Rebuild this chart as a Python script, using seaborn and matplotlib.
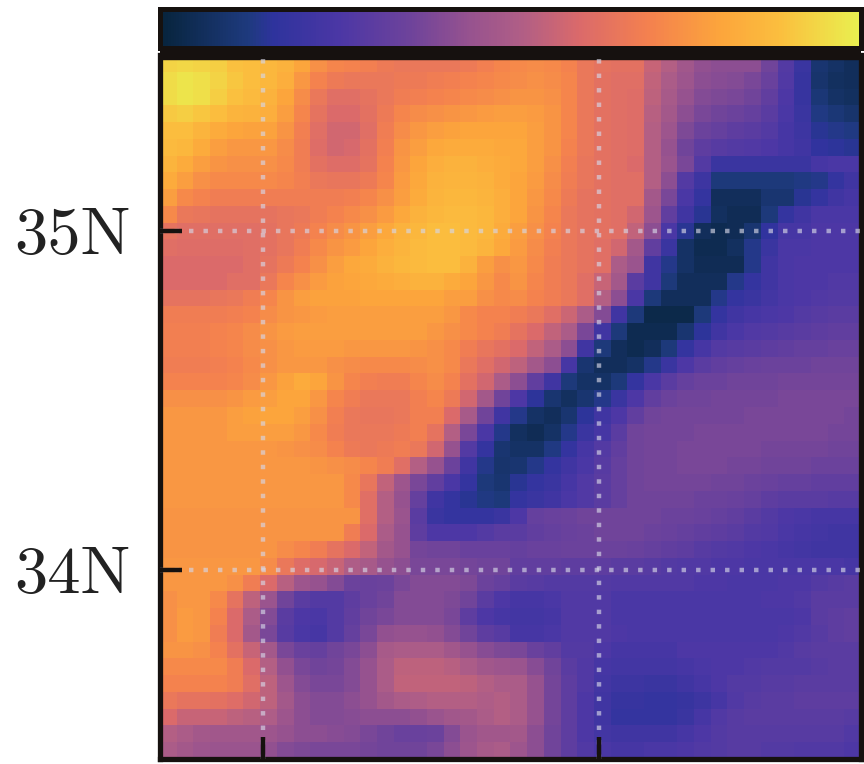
import numpy as np
import matplotlib
matplotlib.use('Agg')
import matplotlib.pyplot as plt
import seaborn as sns
from matplotlib.colors import LinearSegmentedColormap

# field values (0-100 on the colour bar), north at the top
field = [
    [93,94,93,92,89,88,86,84,80,74,71,70,69,67,66,66,66,66,67,69,71,72,73,72,70,66,64,63,63,56,52,47,43,42,42,42,36,28,20,10,8,6],
    [95,97,96,93,90,88,86,83,76,70,67,66,66,66,67,67,68,69,70,71,72,73,74,73,71,66,63,62,62,55,50,46,42,41,40,38,34,27,19,9,7,6],
    [95,97,96,92,89,87,84,80,73,66,62,62,64,66,68,69,70,71,72,73,74,75,75,74,71,66,63,62,61,54,49,44,40,39,38,36,32,26,19,11,8,7],
    [91,92,90,88,85,84,83,78,71,64,60,60,63,67,71,73,74,75,76,77,78,78,77,75,71,66,63,62,61,53,48,42,38,36,35,33,30,25,20,13,11,9],
    [88,88,85,82,80,79,79,75,69,62,58,58,62,68,73,76,78,79,80,80,80,80,78,75,71,66,63,62,61,52,46,39,35,33,31,30,28,24,21,15,14,13],
    [87,86,82,78,76,76,76,73,68,61,58,59,63,69,75,78,81,82,82,82,81,81,78,75,70,66,63,62,61,52,44,36,31,29,28,27,26,24,22,17,16,15],
    [85,82,78,75,74,74,74,72,68,63,61,61,64,70,76,80,83,84,84,83,82,81,78,74,69,65,63,62,60,52,45,38,28,20,20,20,20,20,20,24,25,25],
    [82,78,74,72,72,72,72,71,69,66,65,65,67,71,77,81,84,85,85,84,82,80,77,73,68,65,63,62,62,52,42,28,21,12,12,12,12,12,13,14,18,22],
    [78,72,70,68,68,68,68,68,68,68,68,69,71,74,78,82,85,86,86,85,83,80,76,72,67,64,63,62,62,48,38,25,18,6,6,6,10,10,15,18,22,24],
    [72,66,65,64,64,64,64,65,66,68,70,72,74,77,81,84,86,87,87,86,83,80,75,71,66,64,63,62,58,46,32,22,15,7,5,5,12,18,22,25,25,25],
    [64,62,62,62,62,62,63,65,67,70,73,75,78,81,84,86,88,88,87,86,82,78,74,70,66,64,63,62,55,42,25,15,6,4,5,10,17,24,24,26,26,26],
    [62,61,61,61,61,62,63,65,68,72,75,77,80,83,85,87,88,88,87,85,81,77,73,69,66,64,62,58,48,32,20,8,4,4,7,14,20,25,25,26,26,26],
    [60,60,60,60,60,62,64,67,70,74,78,81,82,84,86,87,88,88,84,78,74,76,72,68,66,64,62,50,45,22,14,8,5,5,5,14,22,25,26,26,26,26],
    [60,60,60,60,62,62,66,71,74,77,79,80,81,82,83,84,84,82,80,76,72,75,71,68,66,62,56,48,30,22,12,6,6,6,14,18,22,25,26,26,27,27],
    [64,64,64,65,66,68,71,75,78,79,79,79,80,80,80,80,80,78,78,74,72,73,70,68,66,62,52,42,25,12,6,6,6,14,18,20,23,25,26,27,28,28],
    [68,68,68,68,69,70,73,75,76,77,78,78,78,78,78,78,78,76,72,70,70,68,66,62,57,50,40,22,12,3,3,3,12,18,22,24,25,26,28,29,30,30],
    [69,69,69,70,71,73,75,77,78,78,78,78,78,78,78,78,76,74,72,70,68,64,60,55,50,38,22,12,4,4,4,10,16,22,25,27,28,29,30,31,32,32],
    [69,69,69,70,71,73,74,76,77,77,77,76,76,76,76,75,74,72,68,65,63,60,55,50,42,22,12,6,4,6,12,18,24,28,29,30,31,32,33,33,34,34],
    [68,68,68,69,70,72,74,76,76,76,74,73,72,72,72,73,74,72,66,62,58,54,48,42,24,10,6,6,8,14,20,26,30,32,33,34,35,35,35,36,36,36],
    [70,70,70,70,71,73,76,79,82,80,75,71,69,68,68,71,73,70,63,58,50,42,32,22,12,8,8,12,18,25,30,33,35,35,36,36,36,37,37,37,37,37],
    [74,74,74,74,75,77,78,80,80,76,71,68,66,66,66,69,71,67,58,48,36,26,16,10,7,10,14,20,26,32,35,36,36,37,37,37,37,38,38,38,38,38],
    [76,76,76,76,78,79,80,80,78,74,69,66,65,65,66,69,69,60,49,36,22,14,8,6,10,16,22,26,32,36,37,37,37,37,37,38,38,38,38,38,38,37],
    [76,76,76,76,78,78,78,78,76,72,68,66,66,66,67,69,64,52,38,25,14,7,5,8,14,20,24,30,36,37,37,37,38,38,38,38,38,38,38,38,37,37],
    [76,76,76,76,76,76,76,75,74,73,70,67,66,67,68,66,58,44,28,18,10,8,8,13,18,24,28,32,36,37,37,38,38,38,38,38,37,37,37,37,36,36],
    [76,76,76,76,76,76,76,76,76,75,74,73,71,68,62,52,44,35,22,14,9,10,14,18,22,25,29,33,36,37,37,38,38,38,37,37,36,36,36,35,35,35],
    [76,76,76,76,76,76,76,76,76,76,76,72,65,55,46,38,32,25,18,12,10,15,18,20,24,27,30,33,36,37,37,37,37,36,36,35,34,33,33,32,32,32],
    [76,76,76,76,76,76,76,76,76,76,76,72,62,52,44,33,22,18,15,13,12,18,20,22,25,27,30,33,36,36,36,36,35,35,34,33,31,30,30,30,29,29],
    [75,75,75,75,75,75,75,75,75,75,75,75,62,52,45,30,20,18,18,18,20,26,33,34,35,36,36,36,36,36,35,35,34,33,32,30,28,26,25,24,24,24],
    [75,75,75,75,75,75,75,75,75,75,75,68,60,50,44,31,26,26,26,28,30,30,32,33,34,35,36,36,36,35,34,33,32,31,30,28,27,25,24,23,22,22],
    [75,75,75,75,75,75,75,73,71,68,64,60,55,48,44,37,36,36,34,34,34,33,34,34,35,35,35,35,34,33,32,31,29,28,27,26,25,24,23,22,22,22],
    [76,76,76,76,76,76,73,66,61,59,56,51,49,44,42,38,38,38,37,36,36,32,32,32,31,31,31,30,30,29,28,27,27,26,26,25,25,25,25,25,25,24],
    [76,76,76,76,74,68,60,53,46,44,40,35,34,35,38,40,40,40,39,35,33,30,29,28,28,28,28,27,27,27,27,27,26,26,25,25,25,26,26,28,29,30],
    [74,76,76,72,64,54,45,36,30,28,28,31,34,36,40,40,40,39,36,30,26,24,24,25,27,27,27,25,25,25,25,25,25,25,25,25,26,26,27,30,30,30],
    [74,77,76,70,60,50,40,30,26,25,28,32,36,38,40,40,40,38,31,26,24,23,23,24,27,27,27,25,25,25,25,25,25,25,25,25,25,25,26,30,31,32],
    [74,77,76,68,60,48,38,29,25,24,28,33,38,43,44,44,43,40,36,31,29,24,24,25,27,27,27,26,25,25,25,25,25,25,25,25,25,26,27,29,31,32],
    [75,75,74,70,63,56,48,38,34,33,36,38,42,49,50,50,50,47,44,41,39,38,34,32,28,28,26,24,24,24,24,26,26,26,26,26,26,27,29,30,30,30],
    [72,72,72,72,68,60,52,43,38,36,37,40,44,50,54,54,54,53,50,47,46,45,41,36,30,27,24,23,23,23,23,24,25,26,26,27,28,28,28,29,30,30],
    [70,70,70,70,68,62,54,46,40,38,38,40,44,50,55,55,55,55,54,52,50,50,44,37,31,27,23,21,21,20,20,22,24,26,28,28,29,29,30,30,30,30],
    [66,64,64,63,61,58,54,48,42,40,40,42,44,48,50,51,52,52,52,51,52,50,44,37,31,26,22,19,19,18,18,19,21,24,27,29,30,30,31,31,31,31],
    [60,56,56,56,54,53,51,46,42,40,40,41,42,42,42,43,45,47,48,50,52,50,44,37,31,26,22,18,18,18,18,20,24,27,29,30,30,30,30,30,30,29],
    [52,50,48,47,47,47,46,44,42,42,41,40,38,36,34,34,35,40,45,47,47,48,42,36,31,26,23,22,22,22,22,24,26,28,29,29,29,29,29,29,29,27],
    [50,48,46,45,45,45,43,40,39,38,38,38,37,36,36,36,38,42,46,49,50,46,42,36,31,27,25,24,24,25,25,26,27,28,29,29,28,28,27,27,27,26],
]

lat_labels = ['35N', '34N']
lat_ticks = [10.5, 30.7]      # in cells from the top
lon_ticks = [6.17, 26.3]      # in cells from the left
cbar_ticks = [28.5, 63.5, 98.3]

stops = [(0.0, '#07243c'), (0.125, '#1e3a7e'), (0.16, '#2e339d'), (0.257, '#4c37a5'),
         (0.357, '#6e439b'), (0.44, '#96528f'), (0.515, '#b05e86'), (0.6, '#db6a6a'),
         (0.7, '#f4814e'), (0.8, '#fca53c'), (0.885, '#fbbe3e'), (0.955, '#f0dd48'),
         (1.0, '#e9f050')]
thermal = LinearSegmentedColormap.from_list('thermal_like', stops)

sns.set_theme(style='ticks')
plt.rcParams['font.family'] = ['cmr10', 'DejaVu Serif']
plt.rcParams['axes.formatter.use_mathtext'] = True

W, H = 864, 764
frame = '#16110f'
fig = plt.figure(figsize=(W / 100, H / 100), dpi=100)
ax = fig.add_axes([160 / W, 1 - 759 / H, 701 / W, 704 / H])
cax = fig.add_axes([160 / W, 1 - 47.5 / H, 701 / W, 38.5 / H])

sns.heatmap(np.array(field), ax=ax, cmap=thermal, vmin=0, vmax=100, square=False,
            cbar_ax=cax, cbar_kws={'orientation': 'horizontal'},
            xticklabels=False, yticklabels=False)

ax.set_xticks(lon_ticks)
ax.set_yticks(lat_ticks)
ax.set_xticklabels([])
ax.set_yticklabels(lat_labels, rotation=0, fontsize=48, color='#222222')
ax.tick_params(axis='both', direction='in', length=16, width=3.2, color=frame, pad=21)
ax.set_axisbelow(False)
ax.grid(True, color='#d6d6e6', alpha=0.65, linewidth=3.2, linestyle=(0, (1, 2.26)))
for spine in ax.spines.values():
    spine.set_visible(True)
    spine.set_linewidth(3.8)
    spine.set_color(frame)
ax.spines['top'].set_linewidth(7.5)
ax.spines['top'].set_capstyle('butt')

cbar = ax.collections[0].colorbar
cbar.set_ticks(cbar_ticks)
cax.xaxis.set_ticks_position('top')
cax.tick_params(axis='x', direction='in', length=16, width=3.4, color=frame, labeltop=False, labelbottom=False)
cbar.outline.set_visible(True)
cbar.outline.set_linewidth(3.6)
cbar.outline.set_edgecolor(frame)

fig.savefig('out.png', dpi=100)
